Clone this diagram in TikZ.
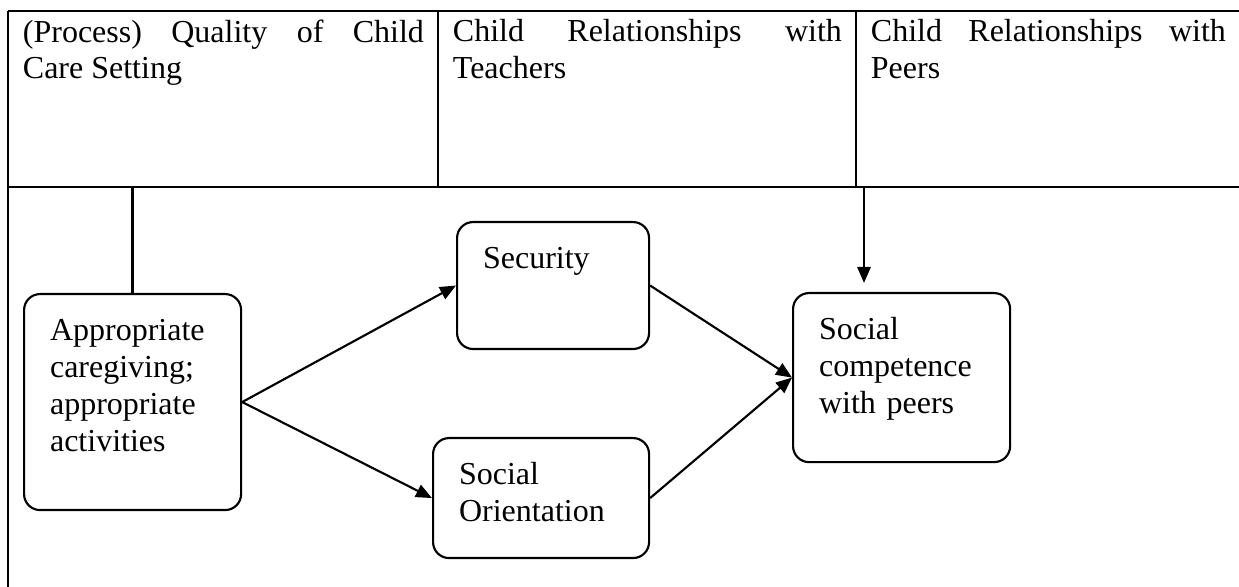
\documentclass[tikz,border=0pt]{standalone}
\usepackage{fontspec}
\setmainfont{Liberation Serif}
\usepackage{tikz}
\usetikzlibrary{arrows.meta}

\begin{document}
\begin{tikzpicture}[x=0.375pt, y=-0.375pt, >={Triangle[length=6pt,width=5pt]},
    every node/.style={font=\fontsize{12}{13.8}\selectfont},
    caixa/.style={draw, line width=0.8pt, rounded corners=6pt, anchor=north west,
                  inner xsep=9.75pt, inner ysep=9pt, align=left, text height=8.5pt},
    celula/.style={anchor=north west, inner sep=0pt, align=justify},
    linha/.style={line width=0.7pt}]

    \useasboundingbox (0,0) rectangle (1239,587);

    % Coordenadas da tabela
    \def\xE{8}          % borda esquerda
    \def\xA{438}        % primeira divisao
    \def\xB{856}        % segunda divisao
    \def\xD{1240}       % borda direita
    \def\yT{11}         % topo
    \def\yM{187}        % fim do cabecalho

    % Linhas da tabela
    \draw[linha] (\xE,\yT) -- (\xD,\yT);
    \draw[linha] (\xE,\yM) -- (\xD,\yM);
    \draw[linha] (\xE,\yT) -- (\xE,600);
    \draw[linha] (\xA,\yT) -- (\xA,\yM);
    \draw[linha] (\xB,\yT) -- (\xB,\yM);

    % Cabecalho
    \node[celula, text width=401*0.375pt] (quality) at (22.4,19)
        {\hyphenpenalty=10000 (Process) Quality of Child\linebreak Care Setting};
    \node[celula, text width=389*0.375pt] (teachers) at (452.4,19)
        {\hyphenpenalty=10000 Child Relationships with Teachers};
    \node[celula, text width=355*0.375pt] (peers) at (870.4,19)
        {\hyphenpenalty=10000 Child Relationships with Peers};

    % Caixas do modelo
    \node[caixa, text width=61.9pt, text depth=54.5pt] (caregiving) at (23,293)
        {Appropriate\\ caregiving;\\ appropriate\\ activities};
    \node[caixa, text width=52.5pt, text depth=21.1pt] (security) at (456,221)
        {Security};
    \node[caixa, text width=61.5pt, text depth=18.5pt] (orientation) at (432,437)
        {Social\\ Orientation};
    \node[caixa, text width=61.9pt, text depth=36.9pt] (competence) at (792,292)
        {Social\\ competence\\ with peers};

    % Setas entre as caixas
    \draw[line width=0.8pt, ->] (caregiving.east) -- (security.west);
    \draw[line width=0.8pt, ->] (caregiving.east) -- (orientation.west);
    \draw[line width=0.8pt, ->] (security.east) -- (competence.west);
    \draw[line width=0.8pt, ->] (orientation.east) -- (competence.west);

    % Ligacao por cima (qualidade -> pares)
    \coordinate (barra) at (864,\yM);
    \draw[line width=1pt] (caregiving.north) -- (caregiving.north |- barra) -- (barra);
    \draw[line width=0.8pt, ->, shorten >=3.4pt] (barra) -- (barra |- competence.north);

\end{tikzpicture}
\end{document}
